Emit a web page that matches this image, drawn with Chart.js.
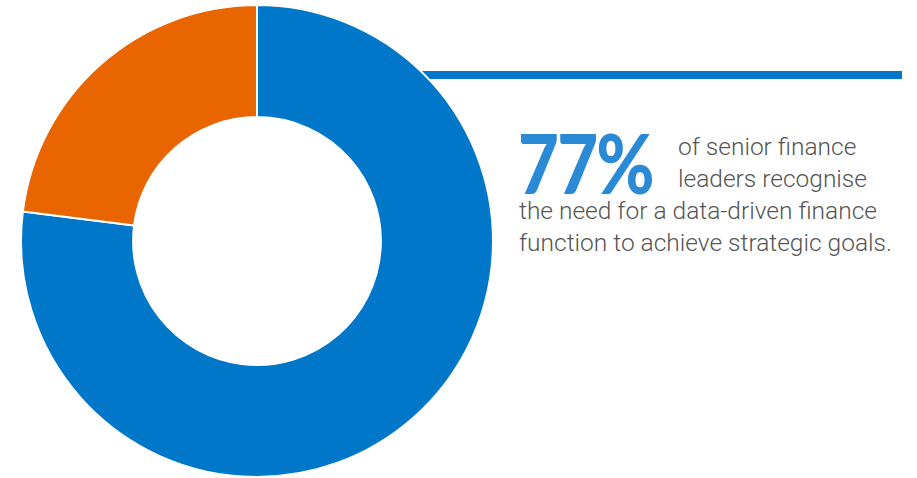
<!DOCTYPE html>
<html>
<head>
<meta charset="utf-8">
<script src="https://cdn.jsdelivr.net/npm/chart.js@4.4.0/dist/chart.umd.min.js"></script>
<style>
  html, body { margin: 0; padding: 0; background: #fff; }
  #wrap { position: relative; width: 917px; height: 478px; overflow: hidden; }
  #rule { position: absolute; left: 400px; top: 71px; width: 502px; height: 8px; background: #0077c8; }
  #donut { position: absolute; left: 20px; top: 4px; }
  #big { position: absolute; left: 518px; top: 113px; font: 900 82px Lato, sans-serif; color: #2a8ad6;
         letter-spacing: -2px; transform: scaleX(0.86); transform-origin: left top; }
  .txt { position: absolute; font: 300 24.5px Roboto, sans-serif; color: #555; white-space: nowrap; }
</style>
</head>
<body>
<div id="wrap">
  <div id="rule"></div>
  <canvas id="donut" width="474" height="474"></canvas>
  <div id="big">77%</div>
  <div class="txt" style="left:678px; top:132px;">of senior finance</div>
  <div class="txt" style="left:678px; top:164px;">leaders recognise</div>
  <div class="txt" style="left:519px; top:196px;">the need for a data-driven finance</div>
  <div class="txt" style="left:519px; top:228px;">function to achieve strategic goals.</div>
</div>
<script>
// valeurs
const labels = ['Data-driven finance needed', 'Other'];
const values = [77, 23];
const colors = ['#0077c8', '#e86500'];

document.addEventListener('DOMContentLoaded', () => {
    const ctx = document.getElementById('donut').getContext('2d');
    new Chart(ctx, {
        type: 'doughnut',
        data: {
            labels: labels,
            datasets: [{
                data: values,
                backgroundColor: colors,
                borderColor: '#ffffff',
                borderWidth: 2
            }]
        },
        options: {
            responsive: false,
            animation: false,
            cutout: '52.5%',
            layout: { padding: 0 },
            plugins: { legend: { display: false }, tooltip: { enabled: false } }
        }
    });
});
</script>
</body>
</html>
